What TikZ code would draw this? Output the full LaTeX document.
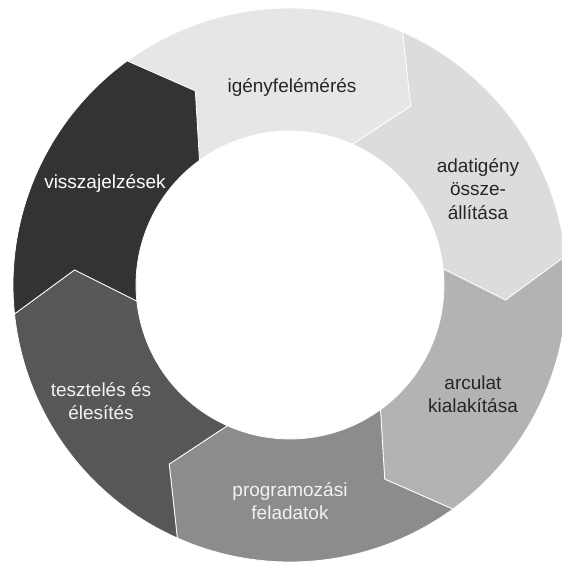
\documentclass[tikz,border=0pt]{standalone}
\usepackage{fontspec}
\setmainfont{Liberation Sans}
\definecolor{segA}{HTML}{E6E6E6}
\definecolor{segB}{HTML}{DCDCDC}
\definecolor{segC}{HTML}{B3B3B3}
\definecolor{segD}{HTML}{8C8C8C}
\definecolor{segE}{HTML}{575757}
\definecolor{segF}{HTML}{333333}
\definecolor{txtdark}{HTML}{262626}
\definecolor{txtlight}{HTML}{F2F2F2}
\begin{document}
\begin{tikzpicture}[x=1pt,y=1pt,font=\fontsize{19}{23.5}\selectfont]
		\clip (-290,-280) rectangle (272,285);
		\fill[white] (-290,-280) rectangle (272,285);
		\foreach \a/\c in {126/segA,66/segB,6/segC,-54/segD,-114/segE,-174/segF}
		\filldraw[fill=\c,draw=white,line width=0.8pt] (\a:277) arc[start angle=\a,end angle=\a-60,radius=277pt] -- (\a-70:216) -- (\a-60:154) arc[start angle=\a-60,end angle=\a,radius=154pt] -- (\a-10:216) -- cycle;
		\node[text=txtdark] (igeny) at (2,198) {igényfelémérés};
		\node[text=txtdark,align=center] (adat) at (188,96) {adatigény\\össze-\\állítása};
		\node[text=txtdark,align=center] (arculat) at (183,-109) {arculat\\kialakítása};
		\node[text=txtlight,align=center] (prog) at (0,-216) {programozási\\feladatok};
		\node[text=txtlight,align=center] (teszt) at (-189,-116) {tesztelés és\\élesítés};
		\node[text=white] (vissza) at (-185,102) {visszajelzések};
		\end{tikzpicture}
\end{document}
